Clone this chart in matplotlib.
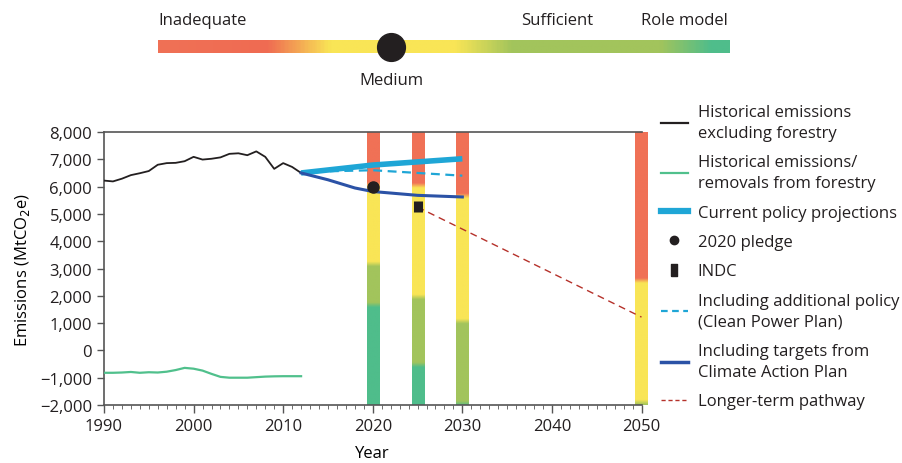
import matplotlib
import numpy as np

matplotlib.use("Agg")
import matplotlib.pyplot as plt
from matplotlib.colors import LinearSegmentedColormap, to_rgb
from matplotlib.lines import Line2D

plt.rcParams["font.family"] = ["Open Sans", "DejaVu Sans"]
plt.rcParams["text.color"] = "#231f20"

# historical emissions excl. forestry (MtCO2e)
HIST_YEARS = list(range(1990, 2013))
HIST_EMIS = [6220, 6190, 6290, 6420, 6490, 6570, 6800, 6860, 6870, 6930, 7090, 6990, 7020,
             7070, 7200, 7220, 7150, 7290, 7090, 6650, 6860, 6720, 6500]
FOREST = [-820, -820, -810, -790, -820, -800, -810, -780, -720, -640, -670, -740, -860,
          -970, -1000, -1000, -1000, -980, -960, -950, -945, -945, -945]

CPP_YEARS = [2012, 2020, 2030]
CPP_EMIS = [6500, 6790, 7020]
ADD_YEARS = [2012, 2015, 2020, 2025, 2030]
ADD_EMIS = [6500, 6560, 6600, 6500, 6400]
CAP_YEARS = [2012, 2015, 2018, 2020, 2025, 2030]
CAP_EMIS = [6500, 6250, 5950, 5820, 5680, 5620]

PLEDGE_YEAR, PLEDGE = 2020, 6000
INDC_YEAR, INDC_LO, INDC_HI = 2025, 5070, 5480
LONG_YEARS = [2025, 2050]
LONG_EMIS = [5250, 1220]

# rating bars: lower edge of red / yellow / green bands
BAR_YEARS = [2020, 2025, 2030, 2050]
RED_LOW = [6080, 6050, 5670, 2560]
YELLOW_LOW = [3170, 1960, 1070, -1900]
GREEN_LOW = [1670, -530, -1950, -2100]

RED, YELLOW, GREEN, TEAL = "#f07156", "#f9e556", "#a2c45c", "#4fbd8b"

fig = plt.figure(figsize=(9.02, 4.64), dpi=100)

# ---- top rating scale
cax = fig.add_axes([158 / 902, 1 - 54 / 464, 572 / 902, 13 / 464])
scale = LinearSegmentedColormap.from_list("scale", [
    (0.0, RED), (0.19, "#ef6b52"), (0.30, YELLOW), (0.52, YELLOW),
    (0.62, GREEN), (0.88, GREEN), (0.97, TEAL), (1.0, TEAL)])
cax.imshow(np.linspace(0, 1, 400)[None, :], cmap=scale, aspect="auto", extent=(0, 1, 0, 1))
cax.plot(0.407, 0.5, "o", color="#231f20", ms=20, clip_on=False)
cax.set_xlim(0, 1); cax.set_ylim(0, 1); cax.axis("off")
fig.text(158 / 902, 1 - 21 / 464, "Inadequate", ha="left", va="center", fontsize=12)
fig.text(557 / 902, 1 - 21 / 464, "Sufficient", ha="center", va="center", fontsize=12)
fig.text(728 / 902, 1 - 21 / 464, "Role model", ha="right", va="center", fontsize=12)
fig.text(391 / 902, 1 - 81 / 464, "Medium", ha="center", va="center", fontsize=12)

# ---- main axes
ax = fig.add_axes([104 / 902, 1 - 406 / 464, 537.5 / 902, 273 / 464])
ax.set_xlim(1990, 2050); ax.set_ylim(-2000, 8000)

vals = np.linspace(-2000, 8000, 600)
blur = 90
for yr, r, y, g in zip(BAR_YEARS, RED_LOW, YELLOW_LOW, GREEN_LOW):
    stops = [-2000 - 1, g - blur, g + blur, y - blur, y + blur, r - blur, r + blur, 8001]
    cols = [TEAL, TEAL, GREEN, GREEN, YELLOW, YELLOW, RED, RED]
    rgb = np.array([to_rgb(c) for c in cols])
    img = np.stack([np.interp(vals, stops, rgb[:, k]) for k in range(3)], axis=-1)[:, None, :]
    ax.imshow(img, origin="lower", aspect="auto", extent=(yr - 0.67, yr + 0.67, -2000, 8000),
              clip_on=False, zorder=1)

ax.plot(HIST_YEARS, HIST_EMIS, color="#231f20", lw=1.3, zorder=3)
ax.plot(HIST_YEARS, FOREST, color="#50c08c", lw=1.6, zorder=3)
ax.plot(CPP_YEARS, CPP_EMIS, color="#1fa6d6", lw=4.0, solid_capstyle="butt", zorder=3)
ax.plot(ADD_YEARS, ADD_EMIS, color="#1fa6d6", lw=1.6, ls=(0, (4, 2.5)), zorder=3)
ax.plot(CAP_YEARS, CAP_EMIS, color="#2b52a6", lw=2.2, zorder=3)
ax.plot(LONG_YEARS, LONG_EMIS, color="#b5312a", lw=1.0, ls=(0, (5, 3.5)), zorder=3)
ax.plot(PLEDGE_YEAR, PLEDGE, "o", color="#231f20", ms=8, zorder=4)
ax.vlines(INDC_YEAR, INDC_LO, INDC_HI, color="#231f20", lw=6.5, zorder=4)

ax.set_xticks(range(1990, 2051, 10))
ax.set_xticks(range(1990, 2051), minor=True)
ax.set_yticks(range(-2000, 8001, 1000))
ax.set_yticklabels([f"{v:,}".replace("-", "\u2212") for v in range(-2000, 8001, 1000)])
ax.tick_params(axis="both", which="major", labelsize=12, color="#555555", width=1.0,
               labelcolor="#231f20")
ax.tick_params(axis="x", which="major", length=6)
ax.tick_params(axis="x", which="minor", length=3, color="#555555")
ax.tick_params(axis="y", which="major", length=5)
for s in ["left", "bottom", "top"]:
    ax.spines[s].set_color("#555555"); ax.spines[s].set_linewidth(1.2)
ax.spines["right"].set_visible(False)
ax.set_xlabel("Year", fontsize=12, labelpad=8)
ax.set_ylabel("Emissions (MtCO$_2$e)", fontsize=12, labelpad=6)

indc_marker = [(-0.55, -1), (0.55, -1), (0.55, 1), (-0.55, 1), (-0.55, -1)]
handles = [
    Line2D([], [], color="#231f20", lw=1.6),
    Line2D([], [], color="#50c08c", lw=1.6),
    Line2D([], [], color="#1fa6d6", lw=4.5),
    Line2D([], [], ls="", marker="o", color="#231f20", ms=6),
    Line2D([], [], ls="", marker=indc_marker, color="#231f20", ms=9),
    Line2D([], [], color="#1fa6d6", lw=1.6, ls=(0, (3, 2))),
    Line2D([], [], color="#2b52a6", lw=2.5),
    Line2D([], [], color="#b5312a", lw=1.0, ls=(0, (3, 2))),
]
labels = ["Historical emissions\nexcluding forestry", "Historical emissions/\nremovals from forestry",
          "Current policy projections", "2020 pledge", "INDC",
          "Including additional policy\n(Clean Power Plan)", "Including targets from\nClimate Action Plan",
          "Longer-term pathway"]
leg = fig.legend(handles, labels, loc="upper left", bbox_to_anchor=(661 / 902, 1 - 105 / 464),
                 frameon=False, fontsize=12, handlelength=1.6, handletextpad=0.6, labelspacing=0.8,
                 borderpad=0, borderaxespad=0)
for t in leg.get_texts():
    t.set_linespacing(1.42)

fig.savefig("out.png", dpi=100)
